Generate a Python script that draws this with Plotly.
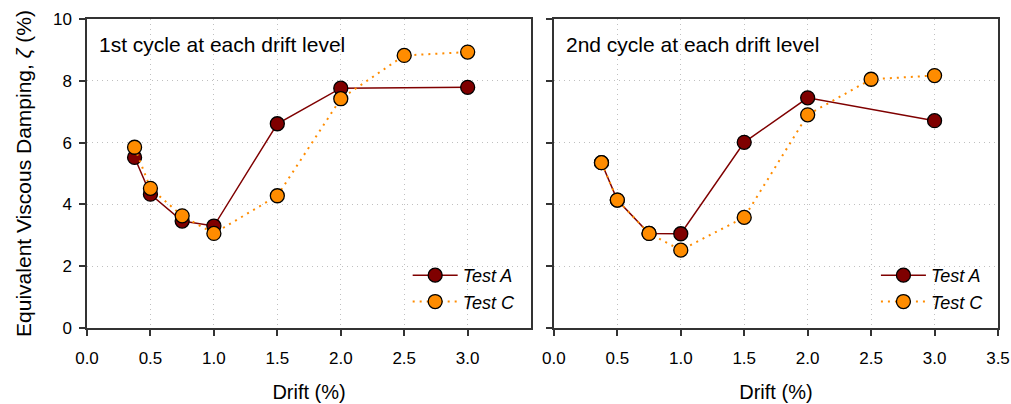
import plotly.graph_objects as go

# Panel 1: 1st cycle
drift_A1 = [0.375, 0.5, 0.75, 1.0, 1.5, 2.0, 3.0]
damp_A1 = [5.52, 4.33, 3.46, 3.30, 6.61, 7.76, 7.79]
drift_C1 = [0.375, 0.5, 0.75, 1.0, 1.5, 2.0, 2.5, 3.0]
damp_C1 = [5.85, 4.52, 3.63, 3.06, 4.28, 7.42, 8.82, 8.93]
# Panel 2: 2nd cycle
drift_A2 = [0.375, 0.5, 0.75, 1.0, 1.5, 2.0, 3.0]
damp_A2 = [5.35, 4.14, 3.06, 3.05, 6.01, 7.45, 6.71]
drift_C2 = [0.375, 0.5, 0.75, 1.0, 1.5, 2.0, 2.5, 3.0]
damp_C2 = [5.35, 4.14, 3.06, 2.52, 3.58, 6.90, 8.05, 8.17]

x_ticks_left = [0.0, 0.5, 1.0, 1.5, 2.0, 2.5, 3.0]
x_ticks_right = [0.0, 0.5, 1.0, 1.5, 2.0, 2.5, 3.0, 3.5]
y_ticks = [0, 2, 4, 6, 8, 10]

COL_A = "#7f0000"
COL_C = "#ff8c00"
FONT = "Liberation Sans, Arial, sans-serif"

fig = go.Figure()

def add_pair(xa, ya, xc, yc, xax, yax, legend):
    fig.add_trace(go.Scatter(
        x=xa, y=ya, name="Test A", mode="lines+markers", xaxis=xax, yaxis=yax,
        legend=legend,
        line=dict(color=COL_A, width=1.5),
        marker=dict(color=COL_A, size=14, line=dict(color="black", width=1.3))))
    fig.add_trace(go.Scatter(
        x=xc, y=yc, name="Test C", mode="lines+markers", xaxis=xax, yaxis=yax,
        legend=legend,
        line=dict(color=COL_C, width=2, dash="2px,5px"),
        marker=dict(color=COL_C, size=14, line=dict(color="black", width=1.3))))

add_pair(drift_A1, damp_A1, drift_C1, damp_C1, "x", "y", "legend")
add_pair(drift_A2, damp_A2, drift_C2, damp_C2, "x2", "y2", "legend2")

axis_common = dict(
    showline=True, linecolor="#333333", linewidth=1.5, mirror=True,
    ticks="outside", ticklen=6, tickcolor="#333333", tickwidth=1.5,
    showgrid=True, gridcolor="#c0c0c0", griddash="1px,4px", gridwidth=1.3,
    zeroline=False, automargin=False,
    tickfont=dict(family=FONT, size=17, color="black"),
)

legend_common = dict(
    font=dict(family=FONT, size=18, color="black", style="italic"),
    bgcolor="rgba(0,0,0,0)", borderwidth=0, yanchor="top", xanchor="left",
    tracegroupgap=0, itemwidth=45,
)

fig.update_layout(
    width=1011, height=404,
    margin=dict(l=87, r=13, t=19, b=76),
    paper_bgcolor="white", plot_bgcolor="white",
    font=dict(family=FONT, color="black"),
    xaxis=dict(domain=[0, 0.4875], range=[0, 3.5], tickvals=x_ticks_left,
               tickformat=".1f", ticklabelstandoff=8,
               title=dict(text="Drift (%)", font=dict(size=20), standoff=18),
               **axis_common),
    xaxis2=dict(domain=[0.5125, 1], range=[0, 3.5], tickvals=x_ticks_right,
                tickformat=".1f", ticklabelstandoff=8, anchor="y2",
                title=dict(text="Drift (%)", font=dict(size=20), standoff=18),
                **axis_common),
    yaxis=dict(range=[0, 10], tickvals=y_ticks, ticklabelstandoff=4,
               title=dict(text="Equivalent Viscous Damping, <i>ζ</i> (%)",
                          font=dict(size=21), standoff=16),
               **axis_common),
    yaxis2=dict(range=[0, 10], tickvals=y_ticks, showticklabels=False,
                anchor="x2", **axis_common),
    legend=dict(x=0.352, y=0.23, **legend_common),
    legend2=dict(x=0.866, y=0.23, **legend_common),
    annotations=[
        dict(text="1st cycle at each drift level", x=0.011, y=0.916,
             xref="paper", yref="paper", xanchor="left", yanchor="middle",
             showarrow=False, font=dict(family=FONT, size=21, color="black")),
        dict(text="2nd cycle at each drift level", x=0.5235, y=0.916,
             xref="paper", yref="paper", xanchor="left", yanchor="middle",
             showarrow=False, font=dict(family=FONT, size=21, color="black")),
    ],
)

fig.write_html("out.html")
